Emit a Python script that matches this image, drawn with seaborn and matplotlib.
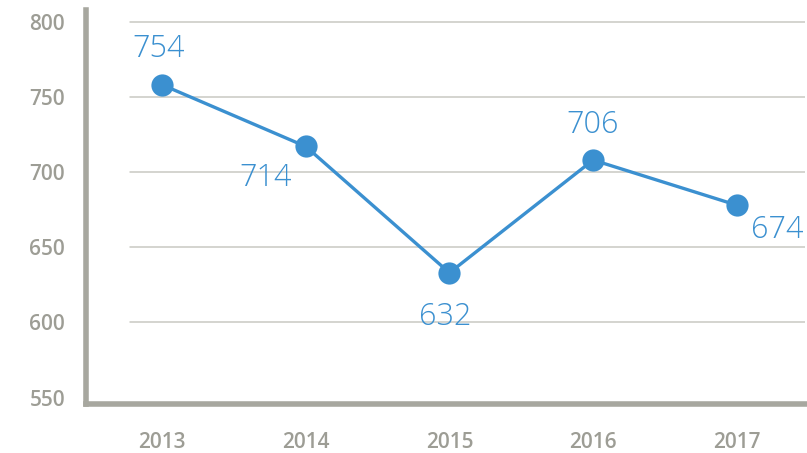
import matplotlib
matplotlib.use("Agg")
import matplotlib.pyplot as plt
import seaborn as sns
import pandas as pd

years = ["2013", "2014", "2015", "2016", "2017"]
values = [758, 717, 633, 708, 678]          # plotted positions
labels = ["754", "714", "632", "706", "674"]  # printed data labels
yticks = [550, 600, 650, 700, 750, 800]
label_offsets = [(-4, 36), (-40, -32), (-4, -44), (0, 35), (40, -25)]

sns.set_style("white")
plt.rcParams['font.family'] = ['Open Sans', 'DejaVu Sans']

BLUE = "#3b90d0"
GRAY = "#a7a79f"
GRID = "#c9c9c2"
TICK = "#9d9d95"

df = pd.DataFrame({"x": range(len(years)), "y": values})

fig = plt.figure(figsize=(8.07, 4.53), dpi=100)
ax = fig.add_axes([0.1066, 0.108, 0.8909, 0.870])

ax.set_xlim(-0.53, 4.475)
ax.set_ylim(545.7, 807.8)

for t in yticks[1:]:
    ax.axhline(t, xmin=(-0.224 + 0.53) / (4.475 + 0.53), xmax=1, color=GRID, lw=1.1, zorder=1)

sns.lineplot(data=df, x="x", y="y", ax=ax, color=BLUE, lw=2.4,
             marker="o", markersize=16, markeredgewidth=0, zorder=3)

for i, (v, lab) in enumerate(zip(values, labels)):
    dx, dy = label_offsets[i]
    ax.annotate(lab, (i, v), xytext=(dx * 0.72, dy * 0.72), textcoords="offset points",
                ha="center", va="center", color=BLUE, fontsize=22,
                family=["Open Sans", "DejaVu Sans"], fontweight="light", fontstyle="normal")

ax.set_xticks(range(len(years)))
ax.set_xticklabels(years)
ax.set_yticks(yticks)
ax.tick_params(axis="both", length=0, labelsize=15, labelcolor=TICK)
ax.tick_params(axis="y", pad=15)
ax.tick_params(axis="x", pad=20)
for lab in ax.get_xticklabels() + ax.get_yticklabels():
    lab.set_fontweight("semibold")
ax.set_xlabel("")
ax.set_ylabel("")

for s in ["top", "right"]:
    ax.spines[s].set_visible(False)
for s in ["left", "bottom"]:
    ax.spines[s].set_color(GRAY)
    ax.spines[s].set_linewidth(4)

fig.savefig("out.png", dpi=100)
